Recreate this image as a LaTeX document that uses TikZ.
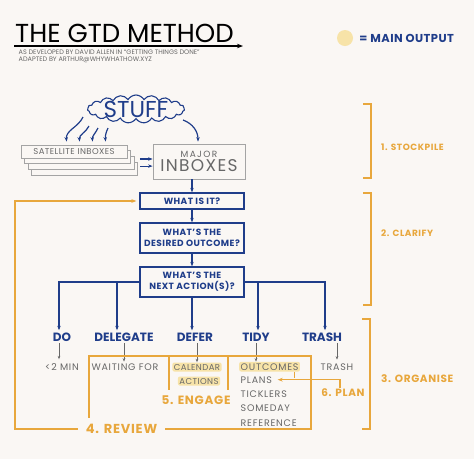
\documentclass[tikz,border=0pt]{standalone}
\usepackage{fontspec}
\setmainfont{Poppins}
\usetikzlibrary{arrows.meta,positioning,shapes.symbols,calc}
\definecolor{paper}{HTML}{FAF7F4}
\definecolor{gtdblue}{HTML}{1F3D8A}
\definecolor{gtdgold}{HTML}{E8A73C}
\definecolor{gtdgrey}{HTML}{676767}
\definecolor{gtdhl}{HTML}{F7E3A8}
\newcommand{\wide}[1]{\addfontfeature{LetterSpace=#1}}
\tikzset{
  qbox/.style={draw=gtdblue, line width=1.3pt, rectangle, minimum width=104pt, align=center, text=gtdblue, font=\fontsize{9}{11}\selectfont\bfseries\wide{5}, inner sep=1pt},
  ibox/.style={draw=gtdgrey!60, line width=0.8pt, fill=paper, rectangle, align=center, text=gtdgrey, inner sep=1pt},
  act/.style={text=gtdblue, font=\fontsize{12}{12}\selectfont\bfseries, inner sep=2pt},
  sub/.style={text=gtdgrey, font=\fontsize{9.5}{10}\selectfont\wide{8}, inner sep=1.5pt},
  hl/.style={sub, fill=gtdhl, rounded corners=2pt},
  phase/.style={text=gtdgold, font=\fontsize{9}{10}\selectfont\bfseries\wide{6}, inner sep=1pt},
  barr/.style={-{Stealth[length=4.5pt]}, gtdblue, line width=1.2pt},
  garr/.style={-{Stealth[length=3.5pt]}, gtdgrey, line width=0.8pt},
  oarr/.style={-{Stealth[length=5pt]}, gtdgold, line width=1.3pt},
  oline/.style={gtdgold, line width=1.3pt},
}

\begin{document}
\begin{tikzpicture}[x=1pt, y=1pt]
\fill[paper] (0,0) rectangle (474,-459);
\useasboundingbox (0,0) rectangle (474,-459);

% Title
\node[anchor=base west, inner sep=0, font=\fontsize{26}{26}\selectfont] (title) at (15,-42) {THE GTD METHOD};
\coordinate (ulend) at (243,-46);
\draw[-{Stealth[length=6pt]}, line width=1.1pt] ($(title.base west)+(-1,-4)$) -- (ulend);
\node[sub, anchor=west, font=\fontsize{6.5}{7}\selectfont] (by1) at (17,-52) {AS DEVELOPED BY DAVID ALLEN IN “GETTING THINGS DONE”};
\node[sub, anchor=west, font=\fontsize{6.5}{7}\selectfont] (by2) at (17,-60) {ADAPTED BY ARTHUR@WHYWHATHOW.XYZ};

% Legend
\node[circle, fill=gtdhl, minimum size=16pt, inner sep=0] (dot) at (345,-38) {};
\node[right=6pt of dot, text=gtdblue, font=\fontsize{11.5}{12}\selectfont\bfseries\wide{4}, inner sep=0] (legend) {= MAIN OUTPUT};

% Stuff and inboxes
\node[cloud, draw=gtdblue, line width=1.1pt, cloud puffs=19, cloud puff arc=120, aspect=3.4, minimum width=97pt, minimum height=28pt, inner sep=0] (stuff) at (136,-109) {};
\node[text=gtdblue, font=\fontsize{23}{23}\selectfont] (stufftxt) at (stuff.center) {STUFF};
\foreach \k in {3,2,1}
  \node[ibox, minimum width=106pt, minimum height=13pt] (sat\k) at ({74+3.5*\k},{-151.5-5.8*\k}) {};
\node[ibox, minimum width=106pt, minimum height=13pt, font=\fontsize{8.5}{9}\selectfont\wide{5}] (sat) at (74,-151.5) {SATELLITE INBOXES};
\node[ibox, minimum width=92pt, minimum height=35pt] (major) at (199,-161.5)
  {\fontsize{9}{10}\selectfont\wide{15}MAJOR\\[1pt]\fontsize{17}{17}\selectfont\wide{8}INBOXES};
\foreach \sx/\sy/\ex in {-53/-8/46, -47/-17/59, -38/-19/72, -28/-19/85}
  \draw[barr] ($(stuff.center)+(\sx,\sy)$) to[out=245, in=95] ($(sat.north west)+(\ex,3)$);
\draw[barr] ($(stuff.center)+(47,-11)$) to[out=-20, in=90] ($(major.north)+(-1,2)$);
\draw[barr, shorten <=9pt] ([yshift=-1.7pt]sat1.east) -- ([yshift=-1.7pt]sat1.east -| major.west);
\draw[barr, shorten <=6pt] ([yshift=-3pt]sat2.east) -- ([yshift=-3pt]sat2.east -| major.west);

% Clarify
\node[qbox, minimum height=16pt] (whatis) at (192,-201) {WHAT IS IT?};
\node[qbox, minimum height=30pt] (desired) at (192,-238) {WHAT’S THE\\DESIRED OUTCOME?};
\node[qbox, minimum height=30pt] (nextact) at (192,-282) {WHAT’S THE\\NEXT ACTION(S)?};
\draw[barr] (major.south -| whatis.north) -- (whatis.north);
\draw[barr] (whatis) -- (desired);
\draw[barr] (desired) -- (nextact);

% Organise
\node[act, anchor=base] (do) at (62,-341) {DO};
\node[act, anchor=base] (delegate) at (124,-341) {DELEGATE};
\node[act, anchor=base] (defer) at (195,-341) {DEFER};
\node[act, anchor=base] (tidy) at (256,-341) {TIDY};
\node[act, anchor=base] (trash) at (322,-341) {TRASH};
\draw[barr] (nextact.west) -| ([xshift=-3pt]do.north);
\draw[barr] (nextact.west) -| ([xshift=-7pt]delegate.north);
\draw[barr] (nextact.south) -- (nextact.south |- defer.north);
\draw[barr] (nextact.east) -| ([xshift=2pt]tidy.north);
\draw[barr] (nextact.east) -| ([xshift=3pt]trash.north);

\node[sub, anchor=base] (twomin) at (62,-370) {<2 MIN};
\node[sub, anchor=base] (waiting) at (125,-370) {WAITING FOR};
\node[hl, anchor=base, font=\fontsize{8.5}{9}\selectfont\wide{5}] (cal1) at (197,-370) {CALENDAR};
\node[hl, anchor=base, font=\fontsize{8.5}{9}\selectfont\wide{5}] (cal2) at (199,-384) {ACTIONS};
\node[hl, anchor=base west] (outcomes) at (239,-370) {OUTCOMES};
\node[sub, anchor=base west] (plans) at (239,-383) {PLANS};
\node[sub, anchor=base west] (ticklers) at (239,-397) {TICKLERS};
\node[sub, anchor=base west] (someday) at (239,-411) {SOMEDAY};
\node[sub, anchor=base west] (reference) at (239,-426) {REFERENCE};
\node[sub, anchor=base] (trashed) at (337,-370) {TRASH};
\draw[garr, shorten >=2pt] ([xshift=-3pt]do.south) -- ([xshift=-3pt]do.south |- twomin.north);
\draw[garr] (delegate.south) -- (delegate.south |- waiting.north);
\draw[garr] ([xshift=2pt]defer.south) -- ([xshift=2pt]defer.south |- cal1.north);
\draw[garr] (tidy.south) -- (tidy.south |- outcomes.north);
\draw[garr, shorten >=2pt] (trashed.north |- trash.south) -- (trashed.north);

% Review, engage, plan
\node[phase, font=\fontsize{13}{13}\selectfont\bfseries\wide{6}, inner xsep=8pt] (review) at (121.5,-429) {4. REVIEW};
\coordinate (loopx) at (15,-429);
\draw[oarr, shorten >=3pt] (review.west) -- (loopx) |- (whatis.west);
\coordinate (orgtr) at (311,-356);
\coordinate (orgtl) at (89,-356);
\coordinate (orgbl) at (89,-418);
\draw[oline] (review.east) -| (orgtr) -- (orgtl) -- (orgbl);
\node[phase, font=\fontsize{12}{12}\selectfont\bfseries\wide{6}] (engage) at (196,-400) {5. ENGAGE};
\draw[oline] (169,-356) -- (169,-390);
\draw[oline] (228,-356) -- (228,-390);
\node[phase, font=\fontsize{10.5}{11}\selectfont\bfseries\wide{6}] (plan) at (343,-393) {6. PLAN};
\draw[oarr, shorten >=4pt] ([xshift=-3pt]plan.north) |- (plans.east);
\draw[oline] ($(outcomes.south east)+(-6,0)$) -- ++(0,-6);

% Phase brackets
\draw[oline] (363,-104) -| (371,-178) -- (363,-178);
\node[phase, anchor=west] (stockpile) at (380,-147) {1. STOCKPILE};
\draw[oline] (363,-193) -| (371,-305) -- (363,-305);
\node[phase, anchor=west] (clarify) at (380,-233) {2. CLARIFY};
\draw[oline] (362,-319) -| (370,-429) -- (362,-429);
\node[phase, anchor=west, font=\fontsize{10.5}{11}\selectfont\bfseries\wide{6}] (organise) at (380,-379) {3. ORGANISE};

\end{tikzpicture}
\end{document}
